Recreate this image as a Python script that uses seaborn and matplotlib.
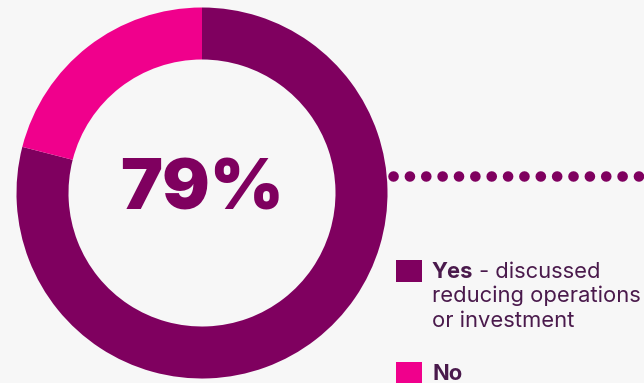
import matplotlib
matplotlib.use("Agg")
import matplotlib.pyplot as plt
import seaborn as sns
from matplotlib.lines import Line2D
from matplotlib.patches import Rectangle

sns.set_theme(style="white")
plt.rcParams['font.family'] = ['Inter', 'DejaVu Sans']

categories = ["Yes", "No"]
values = [79, 21]
center_label = "79%"
legend_bold = ["Yes", "No"]
legend_rest = [" - discussed", ""]
legend_extra = ["reducing operations", "or investment"]

bg = "#f7f7f7"
colors = ["#7f005f", "#f0008c"]
text_color = "#4a1a4c"

W, H = 644, 383
fig = plt.figure(figsize=(W / 100, H / 100), dpi=100, facecolor=bg)

# donut axes
cx, cy, R = 202, 193, 185.5
ax = fig.add_axes([(cx - R) / W, (H - cy - R) / H, 2 * R / W, 2 * R / H])
ax.set_facecolor(bg)
ax.pie(values, colors=colors, startangle=90, counterclock=False, radius=1.0,
       wedgeprops=dict(width=52 / R, linewidth=0))
ax.set_xlim(-1, 1)
ax.set_ylim(-1, 1)
ax.set_aspect("equal")
ax.axis("off")
ax.text(0, 0.01, center_label, ha="center", va="center", fontsize=51,
        fontweight=900, color=colors[0])

# dotted connector
fy = lambda y: (H - y) / H
fx = lambda x: x / W
line = Line2D([fx(393), fx(660)], [fy(176), fy(176)], transform=fig.transFigure,
              color=colors[0], linewidth=7.6, linestyle=(0, (0.01, 1.54)),
              dash_capstyle="round")
fig.add_artist(line)

# legend
fs = 15.8
sq_w, sq_h = 26, 22
rows_y = [278, 380]
for i, (lb, rest, c) in enumerate(zip(legend_bold, legend_rest, colors)):
    base = rows_y[i]
    fig.add_artist(Rectangle((fx(396), fy(base + 4)), sq_w / W, sq_h / H,
                             transform=fig.transFigure, facecolor=c, edgecolor="none"))
    t = fig.text(fx(432), fy(base), lb, fontsize=fs, fontweight="bold",
                 color=text_color, va="baseline", ha="left")
    if rest:
        fig.canvas.draw()
        bb = t.get_window_extent()
        fig.text(bb.x1 / W, fy(base), rest, fontsize=fs, color=text_color,
                 va="baseline", ha="left")
for j, extra in enumerate(legend_extra):
    fig.text(fx(432), fy(rows_y[0] + 24.5 * (j + 1)), extra, fontsize=fs,
             color=text_color, va="baseline", ha="left")

fig.savefig("out.png", dpi=100, facecolor=bg)
